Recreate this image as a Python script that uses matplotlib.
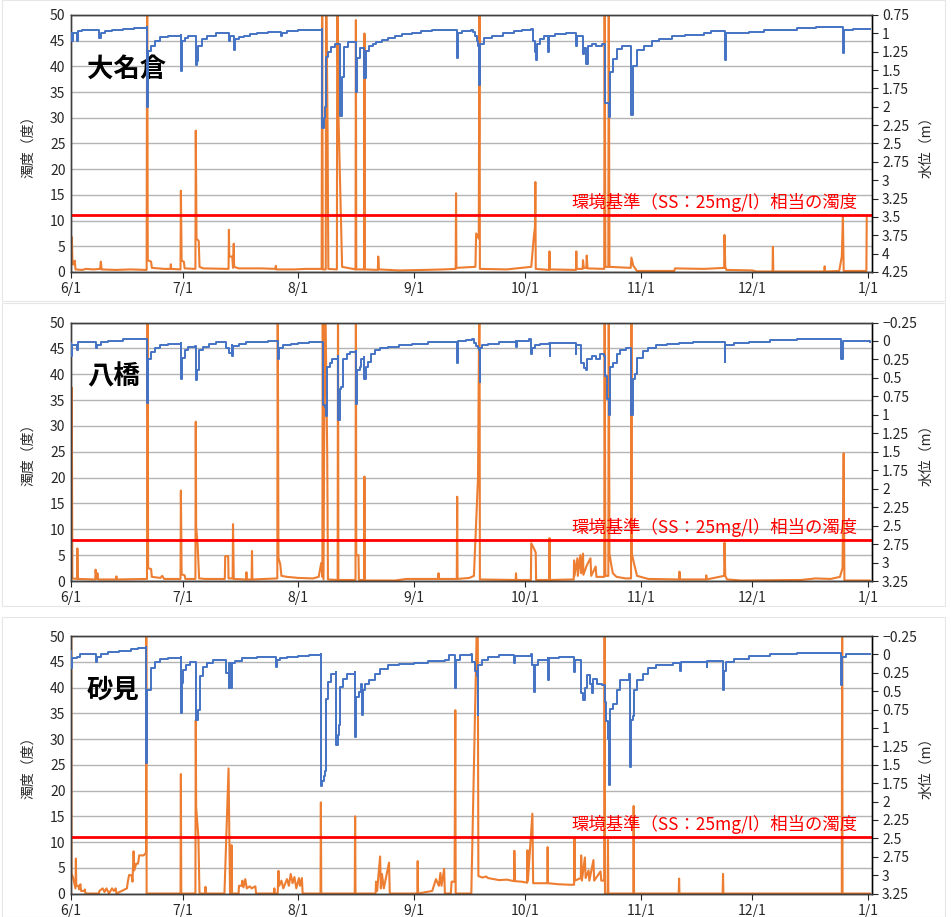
import numpy as np
import matplotlib
matplotlib.use('Agg')
import matplotlib.pyplot as plt
from matplotlib.ticker import FuncFormatter
from matplotlib.patches import Rectangle

plt.rcParams['font.family'] = ['Noto Sans CJK JP', 'DejaVu Sans']

# x = days since 6/1
month_ticks = [0, 30, 61, 92, 122, 153, 183, 214]
month_labels = ['6/1', '7/1', '8/1', '9/1', '10/1', '11/1', '12/1', '1/1']

stations = ['大名倉', '八橋', '砂見']
standard_turb = [11, 8, 11]   # 環境基準(SS:25mg/l)相当の濁度
level_top = [0.75, -0.25, -0.25]
level_bottom = [4.25, 3.25, 3.25]

# ---- 大名倉 ----
okura_turb = [
    (0.0, 0.5), (0.2, 6.8), (0.4, 1.5), (0.9, 1.5), (1.0, 2.2), (1.2, 0.5), (3.0, 0.4), (4.0, 0.6),
    (6.0, 0.5), (7.8, 0.6), (8.0, 2.0), (8.2, 0.5), (12.0, 0.4), (16.0, 0.5), (20.3, 0.4),
    (20.45, 60), (20.6, 2.3), (21.5, 2.0), (21.7, 0.8), (25.0, 0.6), (26.7, 0.6), (26.8, 1.5),
    (26.9, 0.6), (29.4, 0.5), (29.5, 15.8), (29.7, 2.2), (30.3, 2.0), (30.5, 0.7), (33.4, 0.6),
    (33.5, 27.5), (33.7, 6.5), (34.3, 6.0), (34.5, 1.0), (35.5, 0.7), (42.3, 0.6), (42.4, 8.2),
    (42.5, 3.0), (43.3, 3.0), (43.5, 0.8), (43.7, 5.5), (43.8, 1.0), (45.0, 0.7), (51.0, 0.7),
    (54.9, 0.6), (55.0, 1.2), (55.1, 0.5), (60.0, 0.5), (63.0, 0.6), (67.3, 0.6), (67.45, 60),
    (67.6, 0.5), (68.4, 0.5), (68.5, 60), (68.9, 27.5), (69.1, 0.6), (71.4, 0.5), (71.5, 60),
    (71.8, 31), (72.8, 1.0), (76.4, 0.5), (76.5, 49), (76.6, 0.5), (78.7, 0.5), (78.8, 46.4),
    (78.9, 0.5), (82.4, 0.4), (82.5, 3.0), (82.7, 0.5), (88.0, 0.3), (95.0, 0.4), (100.0, 0.5),
    (103.3, 0.6), (103.4, 15.3), (103.5, 0.8), (108.6, 1.0), (108.8, 7.5), (109.5, 6.5),
    (109.7, 60), (109.8, 0.6), (117.0, 0.5), (123.6, 1.0), (124.3, 7.0), (124.6, 8.8),
    (124.7, 17.5), (124.8, 0.6), (128.4, 0.4), (128.5, 4.0), (128.6, 0.5), (135.6, 0.4),
    (135.7, 4.0), (135.8, 0.6), (137.4, 0.6), (137.5, 2.3), (137.7, 0.8), (138.4, 0.8),
    (138.5, 3.2), (138.7, 0.7), (143.2, 0.6), (143.3, 60), (143.5, 1.0), (144.3, 1.0),
    (144.4, 60), (144.6, 1.0), (150.3, 0.8), (150.5, 2.8), (151.0, 1.2), (152.0, 0.2),
    (162.0, 0.2), (162.2, 0.7), (170.0, 0.6), (175.4, 0.8), (175.5, 7.2), (175.7, 1.0),
    (176.0, 0.4), (183.0, 0.3), (184.0, 0.1), (188.4, 0.1), (188.5, 4.9), (188.6, 0.1),
    (202.3, 0.1), (202.4, 1.1), (202.5, 0.1), (206.3, 0.2), (207.0, 3.0), (207.3, 10.9),
    (207.5, 0.2), (213.6, 0.2), (213.7, 10.9),
]
okura_level = [
    (0.0, 0.99), (0.3, 1.10), (0.5, 0.99), (1.7, 1.11), (1.9, 0.97), (3.0, 0.96), (5.0, 0.95),
    (7.5, 1.065), (8.0, 1.00), (9.0, 0.97), (11.0, 0.95), (14.0, 0.94), (17.0, 0.93),
    (20.3, 0.92), (20.4, 2.01), (20.6, 1.24), (21.5, 1.17), (22.5, 1.10), (24.0, 1.05),
    (26.0, 1.03), (29.4, 1.02), (29.5, 1.52), (29.8, 1.11), (30.5, 1.06), (31.5, 1.03),
    (33.5, 1.43), (33.7, 1.38), (34.2, 1.17), (35.2, 1.08), (36.5, 1.04), (38.8, 1.00),
    (40.0, 0.99), (42.4, 1.10), (42.8, 1.04), (43.7, 1.23), (43.9, 1.08), (45.0, 1.05),
    (46.5, 1.03), (48.0, 1.01), (50.0, 0.99), (53.0, 0.98), (56.3, 1.04), (56.6, 0.99),
    (58.0, 0.97), (61.0, 0.96), (64.0, 0.95), (67.4, 0.94), (67.5, 2.29), (67.9, 2.15),
    (68.2, 2.00), (68.5, 1.32), (69.0, 1.25), (69.8, 1.19), (70.8, 1.14), (72.3, 2.12),
    (72.8, 1.59), (73.3, 1.18), (74.5, 1.12), (76.5, 1.80), (76.8, 1.34), (77.5, 1.20),
    (78.8, 1.61), (79.1, 1.24), (80.0, 1.17), (81.0, 1.14), (82.0, 1.12), (83.5, 1.09),
    (85.0, 1.06), (87.0, 1.03), (89.0, 1.01), (91.5, 0.99), (94.0, 0.97), (97.0, 0.96),
    (100.0, 0.955), (103.6, 0.95), (103.7, 1.34), (103.9, 0.99), (105.0, 0.97), (107.5, 0.96),
    (108.0, 0.98), (108.5, 1.04), (109.0, 1.10), (109.4, 1.17), (109.6, 1.70), (109.9, 1.14),
    (111.0, 1.06), (113.0, 1.03), (116.0, 1.00), (119.0, 0.97), (121.0, 0.955), (123.6, 0.945),
    (124.0, 1.10), (124.6, 1.25), (125.0, 1.37), (125.2, 1.15), (126.0, 1.08), (127.0, 1.03),
    (128.1, 1.25), (128.3, 1.03), (130.0, 1.01), (133.0, 1.00), (135.7, 1.17), (135.9, 1.03),
    (137.4, 1.28), (137.8, 1.20), (138.3, 1.42), (138.8, 1.17), (140.0, 1.15), (141.0, 1.17),
    (142.5, 1.14), (143.4, 1.95), (144.6, 2.14), (144.8, 1.53), (145.5, 1.35), (146.5, 1.22),
    (148.0, 1.17), (150.5, 2.115), (150.8, 1.45), (152.0, 1.23), (154.0, 1.17), (156.0, 1.11),
    (158.0, 1.08), (161.5, 1.04), (165.0, 1.02), (170.0, 1.00), (172.0, 0.97), (175.5, 1.37),
    (175.8, 1.00), (178.0, 0.99), (182.0, 0.98), (186.0, 0.96), (190.0, 0.95), (195.0, 0.93),
    (200.0, 0.915), (207.3, 1.27), (207.6, 0.95), (210.0, 0.94), (214.5, 0.94),
]

# ---- 八橋 ----
yatsu_turb = [
    (0.0, 0.3), (0.2, 37.4), (0.35, 0.5), (1.6, 0.4), (1.7, 6.3), (1.85, 0.4), (6.5, 0.3),
    (6.6, 2.2), (6.8, 0.4), (7.1, 1.5), (7.3, 0.3), (12.0, 0.3), (12.2, 0.9), (12.3, 0.3),
    (20.4, 0.4), (20.55, 60), (20.7, 2.5), (21.5, 2.3), (21.7, 0.8), (24.0, 0.6), (24.5, 1.0),
    (25.0, 0.4), (29.4, 0.4), (29.5, 17.5), (29.7, 1.3), (30.5, 1.1), (30.7, 0.4), (33.4, 0.4),
    (33.5, 30.8), (33.6, 10.5), (34.0, 7.0), (34.4, 0.5), (36.0, 0.4), (41.3, 0.4), (41.4, 4.8),
    (42.2, 4.8), (42.3, 0.5), (43.4, 0.5), (43.5, 11.0), (43.7, 0.4), (47.0, 0.3), (47.1, 1.7),
    (47.2, 0.3), (48.5, 0.3), (48.6, 5.8), (48.7, 0.3), (55.4, 0.5), (55.5, 60), (55.7, 4.5),
    (56.2, 3.2), (56.5, 1.0), (58.0, 0.8), (61.0, 0.6), (65.0, 0.5), (66.5, 0.8), (67.2, 3.5),
    (67.5, 0.8), (67.6, 60), (67.8, 0.3), (68.2, 60), (68.8, 24.7), (69.0, 0.3), (71.6, 0.2),
    (71.7, 60), (71.8, 0.2), (76.4, 0.2), (76.5, 60), (76.6, 5.0), (77.2, 5.0), (77.3, 0.2),
    (78.7, 0.2), (78.8, 20.2), (78.9, 0.1), (87.0, 0.1), (90.0, 0.4), (98.6, 0.4), (98.7, 1.5),
    (98.8, 0.4), (103.6, 0.4), (103.7, 16.3), (103.8, 0.4), (107.0, 0.6), (108.2, 1.0),
    (109.3, 20), (109.7, 60), (109.8, 0.3), (119.4, 0.2), (119.5, 1.5), (119.6, 0.2),
    (123.5, 0.2), (123.6, 7.3), (124.5, 6.0), (124.8, 5.5), (124.9, 0.2), (128.4, 0.2),
    (128.5, 8.3), (128.6, 0.2), (135.0, 0.3), (135.1, 4.0), (135.2, 1.0), (136.0, 4.4),
    (136.1, 1.0), (136.8, 5.0), (137.0, 1.5), (137.5, 5.3), (137.6, 1.2), (138.5, 3.0),
    (139.5, 4.4), (139.7, 1.0), (140.9, 2.8), (141.1, 0.8), (143.2, 0.8), (143.3, 60),
    (143.5, 1.0), (144.3, 1.0), (144.4, 60), (144.6, 5.3), (145.0, 3.5), (145.5, 1.5),
    (146.5, 0.8), (149.0, 0.5), (150.4, 0.5), (150.5, 60), (150.6, 5.4), (151.0, 4.0),
    (152.0, 1.0), (155.0, 0.4), (163.3, 0.3), (163.4, 1.8), (163.5, 0.3), (170.5, 0.3),
    (170.6, 1.1), (170.7, 0.3), (175.4, 1.0), (175.5, 7.4), (175.7, 1.0), (176.2, 0.3),
    (180.0, 0.1), (196.0, 0.2), (200.0, 0.5), (204.0, 0.4), (206.5, 0.8), (207.2, 2.5),
    (207.5, 24.7), (207.7, 0.1), (214.5, 0.1),
]
yatsu_level = [
    (0.0, 0.03), (0.1, 0.20), (0.3, 0.05), (1.6, 0.12), (1.8, 0.02), (4.0, 0.01), (6.6, 0.10),
    (7.0, 0.05), (8.0, 0.02), (10.0, 0.00), (14.0, -0.02), (20.4, -0.03), (20.5, 0.84),
    (20.7, 0.25), (21.5, 0.15), (22.5, 0.10), (24.0, 0.06), (26.0, 0.04), (29.4, 0.03),
    (29.5, 0.51), (29.8, 0.23), (30.5, 0.12), (31.5, 0.08), (33.4, 0.07), (33.5, 0.53),
    (33.7, 0.39), (34.4, 0.12), (35.5, 0.08), (37.0, 0.04), (39.0, 0.02), (41.6, 0.10),
    (42.5, 0.16), (43.2, 0.06), (43.3, 0.21), (43.6, 0.07), (45.0, 0.04), (47.0, 0.02),
    (50.0, 0.01), (53.0, 0.00), (55.5, 0.25), (55.8, 0.10), (57.0, 0.05), (59.0, 0.04),
    (61.0, 0.03), (64.0, 0.02), (67.5, 0.01), (67.6, 0.87), (68.2, 0.90), (68.6, 1.02),
    (68.8, 0.35), (69.5, 0.30), (70.0, 0.24), (71.6, 0.20), (71.7, 1.07), (72.2, 0.65),
    (72.6, 0.62), (73.0, 0.24), (74.0, 0.17), (75.0, 0.15), (76.4, 0.14), (76.5, 0.85),
    (76.8, 0.39), (77.5, 0.35), (78.0, 0.24), (78.7, 0.22), (78.8, 0.51), (79.1, 0.35),
    (79.8, 0.28), (80.6, 0.17), (81.5, 0.12), (83.0, 0.10), (85.0, 0.08), (88.0, 0.06),
    (91.7, 0.04), (96.0, 0.02), (100.0, 0.01), (103.7, 0.30), (103.9, 0.00), (106.0, -0.01),
    (107.8, -0.02), (108.2, 0.03), (108.7, 0.07), (109.2, 0.10), (109.5, 0.12), (109.7, 0.555),
    (109.9, 0.10), (110.5, 0.06), (112.0, 0.04), (115.0, 0.02), (119.4, 0.00), (119.5, 0.08),
    (119.7, 0.00), (123.0, -0.02), (123.4, 0.17), (123.7, 0.10), (124.5, 0.06), (126.0, 0.04),
    (128.4, 0.03), (128.5, 0.21), (128.7, 0.03), (135.5, 0.17), (135.7, 0.05), (137.0, 0.30),
    (137.7, 0.37), (138.3, 0.39), (138.5, 0.25), (140.0, 0.20), (141.0, 0.25), (142.0, 0.18),
    (143.2, 0.20), (143.3, 0.48), (144.0, 0.78), (144.5, 1.00), (144.7, 0.35), (145.5, 0.30),
    (146.5, 0.17), (147.5, 0.12), (149.0, 0.10), (150.5, 1.00), (150.8, 0.51), (151.5, 0.45),
    (152.0, 0.23), (153.5, 0.14), (155.0, 0.10), (157.0, 0.06), (160.0, 0.04), (163.4, 0.03),
    (167.0, 0.02), (172.0, 0.01), (175.5, 0.28), (175.7, 0.05), (178.0, 0.03), (182.0, 0.01),
    (187.6, -0.01), (195.0, -0.02), (206.9, 0.25), (207.2, 0.00), (210.0, 0.00), (214.5, 0.01),
]

# ---- 砂見 ----
sunami_turb = [
    (0.0, 0.0), (0.02, 60), (0.1, 3.9), (0.5, 3.2), (1.2, 1.0), (1.3, 6.8), (1.4, 1.5),
    (2.0, 1.5), (2.2, 0.8), (2.5, 1.8), (2.7, 0.5), (3.5, 0.5), (3.7, 0.8), (3.9, 0.0),
    (7.5, 0.0), (7.6, 0.5), (8.5, 1.0), (9.0, 0.3), (9.5, 1.0), (10.2, 0.0), (11.0, 1.0),
    (11.5, 0.5), (12.0, 1.0), (12.2, 0.0), (15.0, 1.0), (15.3, 2.5), (15.6, 3.6), (16.3, 3.5),
    (16.5, 2.3), (16.8, 8.2), (17.0, 4.5), (17.5, 5.8), (18.0, 5.8), (18.3, 7.4), (19.5, 7.4),
    (20.0, 7.8), (20.15, 7.8), (20.2, 60), (20.3, 0.0), (29.4, 0.0), (29.5, 23.2), (29.6, 0.0),
    (33.4, 0.0), (33.5, 33.7), (33.6, 16.8), (34.2, 11.0), (34.5, 0.0), (36.0, 0.0), (36.1, 1.3),
    (36.3, 0.0), (41.2, 0.0), (42.3, 24.3), (42.7, 0.0), (43.0, 0.0), (43.1, 9.4), (43.2, 0.0),
    (45.0, 0.0), (45.1, 1.5), (45.8, 1.5), (46.0, 2.5), (46.3, 1.2), (46.8, 2.8), (47.2, 1.0),
    (48.0, 1.4), (48.5, 1.0), (49.5, 1.4), (49.7, 0.0), (54.5, 0.0), (54.6, 1.0), (54.7, 0.0),
    (55.5, 0.0), (55.7, 4.4), (55.9, 1.5), (56.5, 2.5), (57.0, 1.0), (58.0, 2.8), (58.5, 1.5),
    (59.0, 3.8), (59.5, 2.0), (60.0, 3.2), (60.5, 1.0), (61.2, 3.0), (61.5, 1.5), (62.0, 3.0),
    (62.2, 0.0), (67.0, 0.0), (67.1, 17.7), (67.2, 0.0), (76.2, 0.0), (76.3, 15.0), (76.4, 0.0),
    (81.8, 0.0), (81.9, 2.3), (82.2, 0.5), (83.0, 7.2), (83.2, 1.0), (83.5, 3.8), (84.0, 1.0),
    (85.4, 6.0), (85.6, 0.0), (93.0, 0.0), (93.1, 6.3), (93.2, 0.0), (97.0, 0.5), (98.0, 2.8),
    (98.8, 1.5), (99.2, 4.0), (99.5, 1.5), (100.2, 4.8), (100.4, 0.0), (102.0, 0.0),
    (102.2, 2.3), (103.0, 2.3), (103.2, 35.6), (103.3, 0.0), (107.5, 0.0), (109.2, 60),
    (109.4, 3.4), (110.5, 3.1), (111.5, 3.3), (112.0, 3.0), (115.0, 2.6), (117.0, 2.7),
    (119.0, 2.4), (119.05, 8.3), (119.2, 2.4), (121.0, 2.3), (122.5, 2.1), (122.6, 8.4),
    (122.7, 2.5), (123.9, 15.5), (124.1, 2.0), (127.9, 2.0), (128.0, 9.0), (128.1, 2.0),
    (131.0, 1.8), (134.0, 1.7), (135.1, 1.7), (135.2, 10.8), (135.3, 2.5), (136.9, 3.0),
    (137.0, 7.4), (137.2, 2.5), (138.0, 7.0), (138.2, 3.0), (139.0, 4.5), (139.2, 2.5),
    (140.3, 6.5), (140.5, 2.5), (142.2, 4.3), (142.4, 2.5), (143.2, 2.5), (143.3, 60),
    (143.4, 0.0), (144.1, 0.0), (144.2, 10.4), (144.3, 0.0), (151.0, 0.0), (151.1, 17.0),
    (151.2, 0.0), (163.2, 0.0), (163.3, 2.9), (163.4, 0.0), (175.0, 0.0), (175.1, 3.8),
    (175.2, 0.0), (207.0, 0.0), (207.1, 60), (207.2, 0.0), (214.5, 0.0),
]
sunami_level = [
    (0.0, -0.04), (0.1, 0.19), (0.3, 0.05), (1.5, 0.04), (2.5, -0.01), (6.6, 0.10), (7.0, 0.04),
    (8.0, 0.00), (10.0, -0.03), (13.0, -0.05), (16.0, -0.07), (18.0, -0.09), (20.1, -0.10),
    (20.2, 1.48), (20.4, 0.49), (21.6, 0.19), (22.5, 0.10), (24.0, 0.065), (26.0, 0.05),
    (29.4, 0.03), (29.5, 0.80), (29.7, 0.39), (30.2, 0.21), (31.0, 0.15), (32.0, 0.10),
    (33.5, 0.89), (34.0, 0.76), (34.5, 0.30), (35.5, 0.17), (36.5, 0.12), (38.0, 0.08),
    (41.2, 0.07), (41.5, 0.25), (42.3, 0.46), (42.5, 0.12), (42.9, 0.46), (43.1, 0.12),
    (44.0, 0.09), (46.0, 0.05), (50.0, 0.04), (55.0, 0.17), (55.2, 0.08), (56.0, 0.05),
    (58.0, 0.03), (61.0, 0.02), (64.0, 0.01), (67.0, 0.00), (67.1, 1.79), (67.5, 1.72),
    (67.9, 1.65), (68.3, 1.59), (68.5, 0.60), (69.0, 0.37), (69.8, 0.26), (71.1, 0.24),
    (71.2, 1.23), (71.6, 1.10), (72.0, 0.96), (72.2, 0.44), (73.0, 0.33), (74.0, 0.26),
    (76.2, 0.24), (76.3, 1.12), (76.6, 0.58), (77.3, 0.51), (78.0, 0.40), (78.1, 0.83),
    (78.3, 0.49), (79.0, 0.40), (80.0, 0.35), (81.5, 0.26), (83.0, 0.20), (85.0, 0.15),
    (88.0, 0.13), (92.0, 0.11), (96.0, 0.09), (100.5, 0.07), (101.5, 0.01), (103.2, 0.46),
    (103.4, 0.07), (104.5, 0.01), (107.3, 0.00), (107.6, 0.10), (108.4, 0.22), (109.1, 0.30),
    (109.2, 0.83), (109.4, 0.15), (110.5, 0.07), (112.0, 0.03), (115.0, 0.01), (119.0, 0.12),
    (119.2, 0.02), (123.5, 0.00), (123.7, 0.15), (124.4, 0.51), (124.6, 0.15), (125.5, 0.07),
    (128.0, 0.05), (128.1, 0.35), (128.3, 0.05), (131.0, 0.03), (135.2, 0.24), (135.4, 0.07),
    (137.0, 0.53), (137.5, 0.62), (138.0, 0.45), (138.5, 0.28), (139.5, 0.40), (140.0, 0.53),
    (140.3, 0.33), (141.2, 0.40), (142.5, 0.42), (143.3, 0.65), (143.8, 0.90), (144.2, 1.15),
    (144.5, 1.77), (144.7, 0.74), (145.5, 0.68), (146.5, 0.49), (147.5, 0.35), (149.9, 0.26),
    (150.0, 1.53), (150.3, 0.89), (150.8, 0.84), (151.3, 0.49), (152.0, 0.35), (153.5, 0.26),
    (155.0, 0.19), (157.0, 0.15), (161.6, 0.11), (163.6, 0.23), (163.8, 0.10), (170.7, 0.17),
    (170.9, 0.09), (175.1, 0.485), (175.3, 0.23), (176.0, 0.10), (178.0, 0.06), (182.0, 0.02),
    (187.6, -0.01), (195.0, -0.02), (206.9, 0.415), (207.1, 0.04), (208.0, -0.01), (214.5, -0.01),
]

turb_data = [okura_turb, yatsu_turb, sunami_turb]
level_data = [okura_level, yatsu_level, sunami_level]

ORANGE = '#ED7D31'
BLUE = '#4472C4'
GRID = '#B4B4B4'
TXT = '#262626'


def fmt_level(v, pos):
    s = '%g' % round(v, 2)
    return s.replace('-', '\u2212')


if __name__ == '__main__':
    fig = plt.figure(figsize=(9.51, 9.17), dpi=100)

    # faint frames around each chart block
    for (y0, y1) in [(0, 301), (303, 606), (617, 917)]:
        fig.patches.append(Rectangle((2 / 951, 1 - y1 / 917), 943 / 951, (y1 - y0) / 917,
                                     transform=fig.transFigure, fill=False,
                                     edgecolor='#E6E6E6', lw=0.8))

    rects = [[0.0747, 0.7034, 0.8418, 0.2803],
             [0.0747, 0.3664, 0.8418, 0.2819],
             [0.0747, 0.0256, 0.8418, 0.2808]]

    for i in range(3):
        ax = fig.add_axes(rects[i])
        t = np.array(turb_data[i])
        lv = np.array(level_data[i])

        ax.plot(t[:, 0], t[:, 1], color=ORANGE, lw=1.5, zorder=2)
        ax.axhline(standard_turb[i], color='#FF0000', lw=2, zorder=4)
        ax.text(211.3, standard_turb[i] + 0.6, '環境基準（SS：25mg/l）相当の濁度',
                color='#FF0000', fontsize=12.5, ha='right', va='bottom', zorder=5)
        ax.text(0.02, 0.79, stations[i], transform=ax.transAxes, fontsize=19,
                fontweight='bold', color='black', va='center', ha='left', zorder=6)

        ax.set_xlim(0, 215)
        ax.set_ylim(0, 50)
        ax.set_yticks(np.arange(0, 51, 5))
        ax.set_xticks(month_ticks)
        ax.set_xticklabels(month_labels)
        ax.yaxis.grid(True, color=GRID, lw=1)
        ax.set_axisbelow(True)
        ax.tick_params(axis='y', length=0, labelsize=10, colors=TXT, pad=4)
        ax.tick_params(axis='x', length=4, labelsize=10, colors=TXT, direction='out')
        ax.set_ylabel('濁度（度）', fontsize=10, color=TXT)
        ax.yaxis.set_label_coords(-0.045, 0.5)
        for s in ax.spines.values():
            s.set_color('#404040')
            s.set_linewidth(1)
        ax.spines['bottom'].set_color('black')

        ax2 = ax.twinx()
        ax2.plot(lv[:, 0], lv[:, 1], color=BLUE, lw=1.4, drawstyle='steps-post', zorder=3)
        ax2.set_ylim(level_bottom[i], level_top[i])
        ax2.set_yticks(np.arange(level_top[i], level_bottom[i] + 0.01, 0.25))
        ax2.yaxis.set_major_formatter(FuncFormatter(fmt_level))
        ax2.tick_params(axis='y', length=4, labelsize=10, colors=TXT, direction='out')
        ax2.set_ylabel('水位（m）', fontsize=10, color=TXT)
        ax2.yaxis.set_label_coords(1.060, 0.5)
        for s in ax2.spines.values():
            s.set_color('#404040')
            s.set_linewidth(1)
        ax2.spines['right'].set_color('black')

    fig.savefig('out.png', dpi=100)
